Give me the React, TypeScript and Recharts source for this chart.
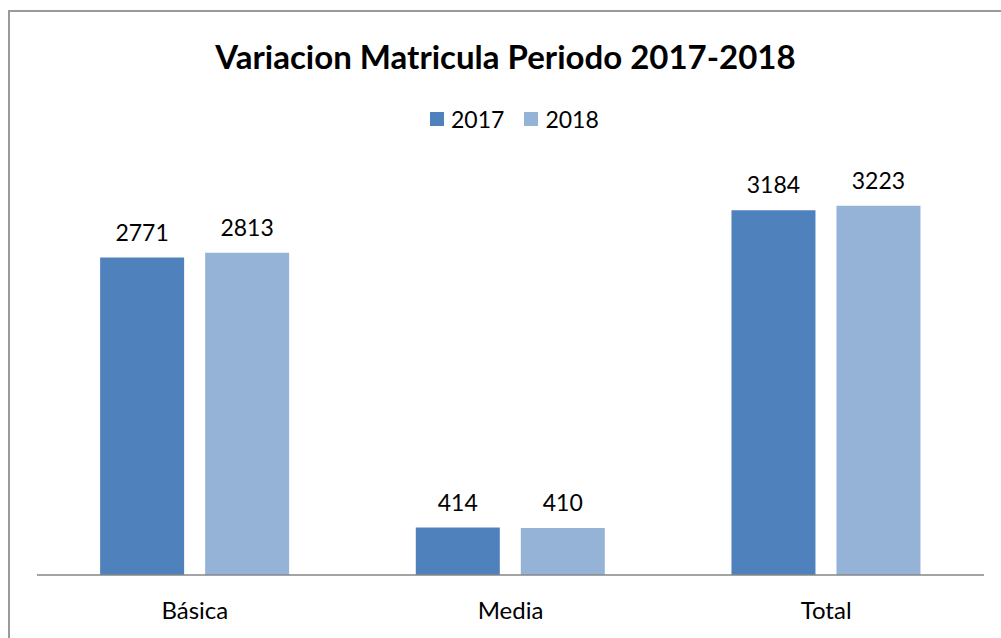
import { BarChart, Bar, XAxis, YAxis, LabelList } from "recharts";

const categories = ["Básica", "Media", "Total"];
const values2017 = [2771, 414, 3184];
const values2018 = [2813, 410, 3223];
const seriesNames = ["2017", "2018"];
const seriesColors = ["#4F81BD", "#95B3D7"];

const data = categories.map((name, i) => ({
  name,
  y2017: values2017[i],
  y2018: values2018[i],
}));

const FONT = "Lato, 'Open Sans', sans-serif";

const App = () => {
  return (
    <div
      style={{
        position: "fixed",
        left: 8,
        top: 10,
        width: 991,
        height: 626,
        overflow: "hidden",
        borderTop: "2px solid #9a9a9a",
        borderLeft: "2px solid #9a9a9a",
        fontFamily: FONT,
        background: "#fff",
      }}
    >
      <div
        style={{
          position: "absolute",
          top: 24,
          left: 0,
          width: 991,
          textAlign: "center",
          fontSize: 33,
          fontWeight: 700,
          color: "#000",
        }}
      >
        Variacion Matricula Periodo 2017-2018
      </div>
      <div
        style={{
          position: "absolute",
          top: 93,
          left: 420,
          display: "flex",
          alignItems: "center",
          fontSize: 23,
          color: "#000",
        }}
      >
        {seriesNames.map((s, i) => (
          <span
            key={s}
            style={{ display: "flex", alignItems: "center", marginRight: 20 }}
          >
            <span
              style={{
                display: "inline-block",
                width: 14,
                height: 14,
                background: seriesColors[i],
                marginRight: 7,
              }}
            />
            {s}
          </span>
        ))}
      </div>
      <BarChart
        width={991}
        height={624}
        data={data}
        margin={{ top: 162, right: 17, bottom: 21, left: 27 }}
        barCategoryGap="20%"
        barGap={21}
      >
        <XAxis
          dataKey="name"
          height={40}
          tickLine={false}
          tickSize={0}
          tickMargin={27}
          axisLine={{ stroke: "#868686", strokeWidth: 1.5 }}
          tick={{ fontSize: 24, fill: "#000", fontFamily: FONT }}
        />
        <YAxis hide domain={[0, 3500]} />
        <Bar dataKey="y2017" fill={seriesColors[0]} isAnimationActive={false}>
          <LabelList
            dataKey="y2017"
            position="top"
            offset={17}
            style={{ fontSize: 23, fill: "#000", fontFamily: FONT }}
          />
        </Bar>
        <Bar dataKey="y2018" fill={seriesColors[1]} isAnimationActive={false}>
          <LabelList
            dataKey="y2018"
            position="top"
            offset={17}
            style={{ fontSize: 23, fill: "#000", fontFamily: FONT }}
          />
        </Bar>
      </BarChart>
    </div>
  );
};

export default App;
